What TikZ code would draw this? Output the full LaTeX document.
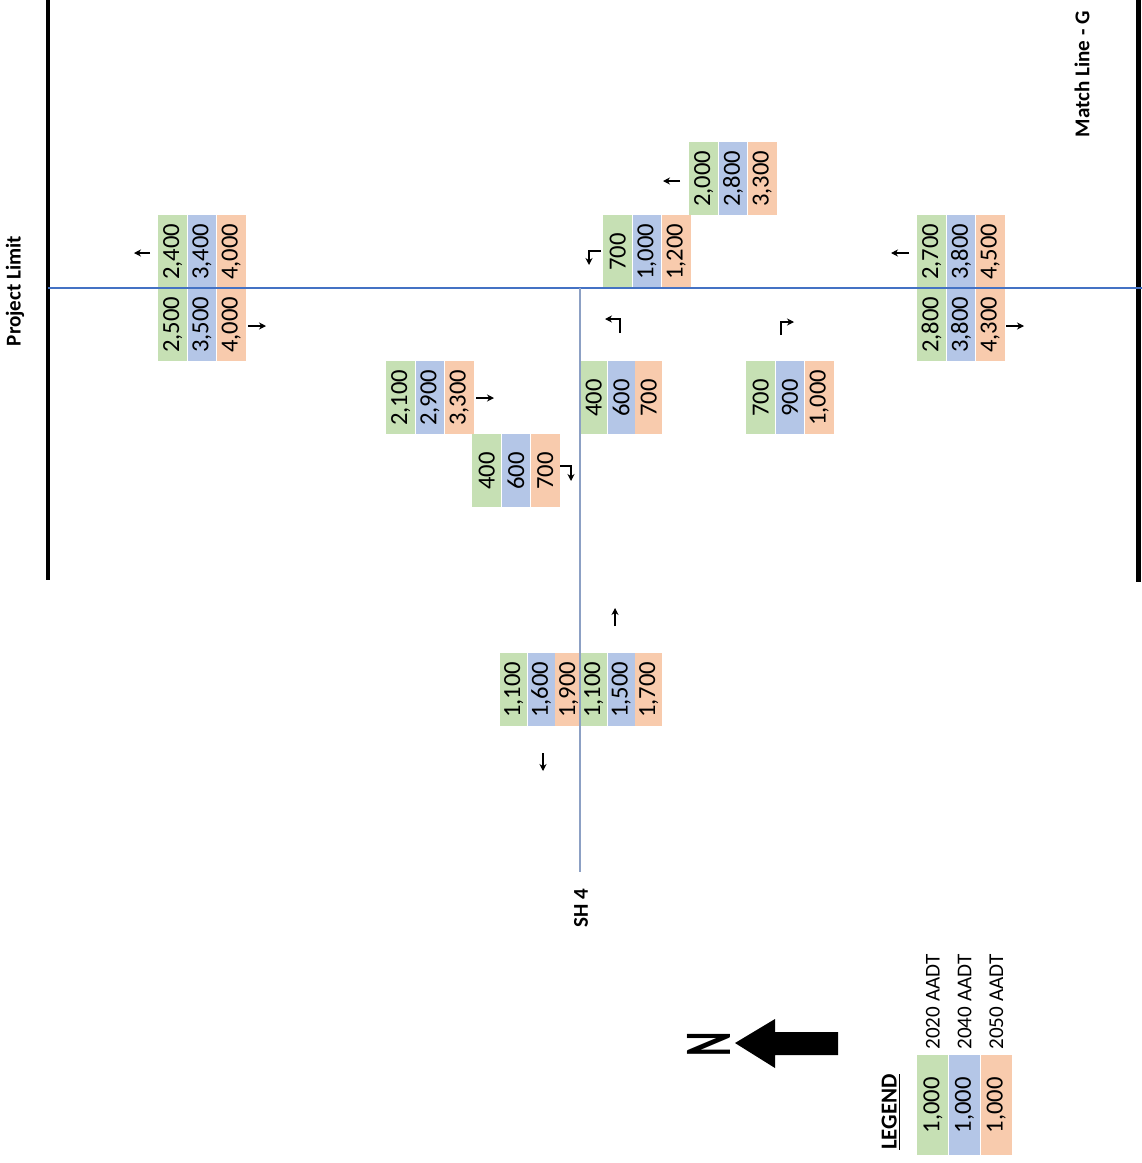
\documentclass[tikz,border=0pt]{standalone}
\usepackage{fontspec}
\setmainfont{Carlito}
\usetikzlibrary{positioning,arrows.meta}

\definecolor{aadtgreen}{RGB}{198,224,180}
\definecolor{aadtblue}{RGB}{180,198,231}
\definecolor{aadtorange}{RGB}{248,203,173}
\definecolor{roadblue}{RGB}{68,114,196}
\definecolor{shgray}{RGB}{140,160,196}

\tikzset{
  cell/.style={rectangle, inner sep=0pt, minimum height=1.46cm, minimum width=#1,
    font=\fontsize{14}{14}\selectfont},
  cell/.default=0.572cm,
  legcell/.style={rectangle, inner sep=0pt, minimum height=2cm, minimum width=0.62cm,
    font=\fontsize{14}{14}\selectfont},
  aadt/.style={rotate=90, inner sep=0pt, font=\fontsize{12}{12}\selectfont},
  lbl/.style={rotate=90, font=\bfseries\fontsize{12}{12}\selectfont},
  dir/.style={-{Stealth[length=4pt,width=4pt]}, line width=0.6pt},
}

\newcommand{\volbox}[6][0.572cm]{%
  \node[cell=#1, fill=aadtgreen, anchor=north west] (#2-a) at (#3) {\rotatebox{90}{#4}};
  \node[cell=#1, fill=aadtblue, right=0pt of #2-a] (#2-b) {\rotatebox{90}{#5}};
  \node[cell=#1, fill=aadtorange, right=0pt of #2-b] (#2-c) {\rotatebox{90}{#6}};
}

\begin{document}
\begin{tikzpicture}[x=0.02cm, y=-0.02cm]
  \useasboundingbox (0,0) rectangle (1142,1163);

  \coordinate (pl-top) at (48,0);
  \coordinate (pl-bot) at (48,580);
  \coordinate (ml-top) at (1138.5,0);
  \coordinate (ml-bot) at (1138.5,582);
  \coordinate (rd-w) at (48,288);
  \coordinate (rd-e) at (1142,288);
  \coordinate (sh-n) at (580,288);
  \coordinate (sh-s) at (580,872);

  \volbox{wb-w}{158,215}{2,400}{3,400}{4,000}
  \volbox{eb-w}{158,288}{2,500}{3,500}{4,000}
  \volbox{eb-m}{386,361}{2,100}{2,900}{3,300}
  \volbox{eb-r}{472,434}{400}{600}{700}
  \volbox[0.535cm]{nb-l}{580,361}{400}{600}{700}
  \volbox{wb-l}{603,215}{700}{1,000}{1,200}
  \volbox{wb-m}{689,142}{2,000}{2,800}{3,300}
  \volbox{eb-l}{746,361}{700}{900}{1,000}
  \volbox{wb-e}{917,215}{2,700}{3,800}{4,500}
  \volbox{eb-e}{917,288}{2,800}{3,800}{4,300}
  \volbox[0.535cm]{sb-s}{500,653}{1,100}{1,600}{1,900}
  \volbox[0.535cm]{nb-s}{580,653}{1,100}{1,500}{1,700}

  \draw[line width=0.08cm] (pl-top) -- (pl-bot);
  \draw[line width=0.1cm] (ml-top) -- (ml-bot);
  \draw[roadblue, line width=0.8pt] (rd-w) -- (rd-e);
  \draw[shgray, line width=1.5pt] (sh-n) -- (sh-s);

  \node[lbl] (pl-lbl) at (15,291) {Project Limit};
  \node[lbl] (ml-lbl) at (1082,74) {Match Line - G};
  \node[lbl] (sh-lbl) at (581,908) {SH 4};

  \draw[dir] (150,253) -- (134,253);
  \draw[dir] (248,326) -- (266,326);
  \draw[dir] (476,398) -- (494,398);
  \draw[dir] (680,181) -- (663,181);
  \draw[dir] (909,253) -- (891,253);
  \draw[dir] (1006,326) -- (1024,326);
  \draw[dir] (615,626) -- (615,608);
  \draw[dir] (543,753) -- (543,771);
  \draw[dir] (560,466) -- (571,466) -- (571,481);
  \draw[dir] (601,251) -- (589,251) -- (589,265);
  \draw[dir] (620,333) -- (620,319) -- (605,319);
  \draw[dir] (781,335) -- (781,322) -- (794,322);

  \fill (735,1043) -- (775,1019) -- (775,1032) -- (838,1032) -- (838,1055)
    -- (775,1055) -- (775,1068) -- cycle;
  \node[rotate=90, font=\bfseries\fontsize{21}{21}\selectfont] (north) at (709,1044)
    {\scalebox{1}[1.8]{N}};

  \node[legcell, fill=aadtgreen, anchor=north west] (lg-a) at (917,1055) {\rotatebox{90}{1,000}};
  \node[legcell, fill=aadtblue, right=0pt of lg-a] (lg-b) {\rotatebox{90}{1,000}};
  \node[legcell, fill=aadtorange, right=0pt of lg-b] (lg-c) {\rotatebox{90}{1,000}};
  \node[aadt, anchor=west] (lt-a) at ([yshift=3pt]lg-a.north) {2020 AADT};
  \node[aadt, anchor=west] (lt-b) at ([yshift=3pt]lg-b.north) {2040 AADT};
  \node[aadt, anchor=west] (lt-c) at ([yshift=3pt]lg-c.north) {2050 AADT};
  \node[lbl, font=\bfseries\fontsize{13}{13}\selectfont] (lg-title) at (891,1112) {\underline{LEGEND}};
\end{tikzpicture}
\end{document}
